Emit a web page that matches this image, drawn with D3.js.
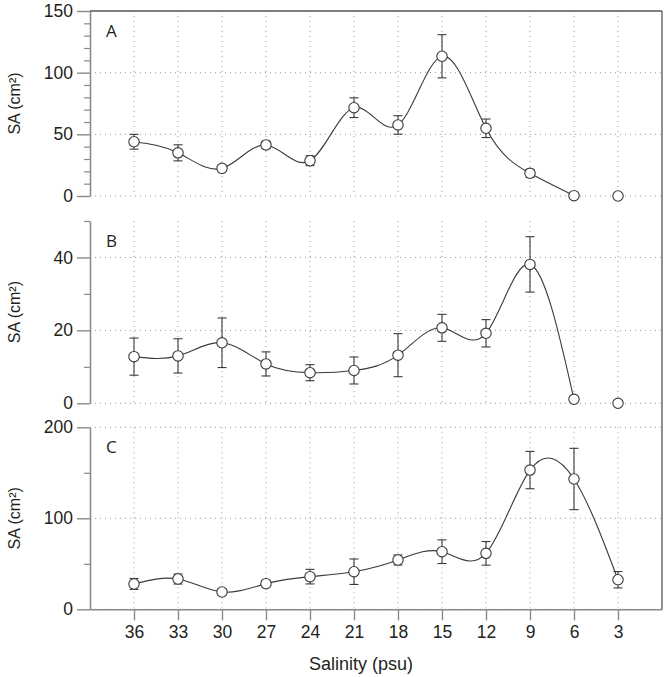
<!DOCTYPE html>
<html><head><meta charset="utf-8">
<script src="https://cdn.jsdelivr.net/npm/d3@7"></script>
<style>body{margin:0;background:#fff}svg{display:block}text{font-family:"Liberation Sans",Arial,sans-serif;fill:#231f20}</style>
</head><body><svg id="c" width="667" height="677"></svg>
<script>
const salinity = [36,33,30,27,24,21,18,15,12,9,6,3];
const saA  = [44,35,22.4,41.4,28.6,71.6,57.6,113.3,54.9,18.4,0.3,0];
const errA = [6,6.5,2,3,4,8,7.5,17.5,7.5,3.3,0,0];
const saB  = [12.8,13,16.6,10.8,8.4,9.0,13.2,20.7,19.2,38.1,1.1,0];
const errB = [5.1,4.7,6.8,3.3,2.2,3.7,5.9,3.7,3.75,7.6,0,0];
const saC  = [27.8,33.3,19,28.2,35.9,41.3,54.2,63.3,61.5,153,143.2,32.5];
const errC = [6,5.5,3,3,8,14,5.5,13,13,20.5,33.7,9];
const panelLabels = ["A","B","C"];
const yMax = [150,50,200];
const yMajor = [[0,50,100,150],[0,20,40],[0,100,200]];
const yMinor = [[10,20,30,40,60,70,80,90,110,120,130,140],[10,30,50],[50,150]];
const connectedCount = [11,11,12];
const yTitle = "SA (cm²)";
const xTitle = "Salinity (psu)";

const svg = d3.select("#c");
const X0 = 90, X1 = 662;
const x = d3.scaleLinear().domain([39,0]).range([X0,X1]);
const panels = [
  {vals:saA, err:errA, top:11, bot:196},
  {vals:saB, err:errB, top:221, bot:403.3},
  {vals:saC, err:errC, top:427.3, bot:609.3}
];
const grid = "#9a9a9a", axisC = "#8a8a8a", ink = "#3a3a3a";

panels.forEach((p,i)=>{
  const y = d3.scaleLinear().domain([0,yMax[i]]).range([p.bot,p.top]);
  const g = svg.append("g");
  g.selectAll(".vg").data(salinity).join("line")
    .attr("x1",d=>x(d)).attr("x2",d=>x(d)).attr("y1",p.top).attr("y2",p.bot)
    .attr("stroke",grid).attr("stroke-width",1).attr("stroke-dasharray","1,4");
  g.selectAll(".hg").data(yMajor[i].filter(v=>!(i===0&&v===yMax[i]))).join("line")
    .attr("x1",X0).attr("x2",X1).attr("y1",d=>y(d)).attr("y2",d=>y(d))
    .attr("stroke",grid).attr("stroke-width",1).attr("stroke-dasharray","1,4");
  const minor = g.append("g").attr("transform",`translate(${X0},0)`)
    .call(d3.axisLeft(y).tickValues(yMinor[i]).tickSize(6).tickFormat(""));
  minor.select(".domain").remove();
  minor.selectAll("line").attr("stroke",axisC).attr("stroke-width",1.2);
  const ax = g.append("g").attr("transform",`translate(${X0},0)`)
    .call(d3.axisLeft(y).tickValues(yMajor[i]).tickSize(13).tickSizeOuter(0).tickPadding(4));
  ax.select(".domain").attr("stroke",axisC).attr("stroke-width",1.6);
  ax.selectAll("line").attr("stroke",axisC).attr("stroke-width",1.4);
  ax.selectAll("text").attr("font-size",17.5).attr("fill","#231f20").attr("font-family","Liberation Sans, Arial, sans-serif");
  g.append("text").attr("x",106).attr("y",p.top+26).attr("font-size",17)
    .style("font-family","'Open Sans',sans-serif").text(panelLabels[i]);
  g.append("text").attr("transform",`translate(20,${(p.top+p.bot)/2}) rotate(-90)`)
    .attr("text-anchor","middle").attr("font-size",16).text(yTitle);
  const pts = salinity.map((s,k)=>[s,p.vals[k]]).slice(0,connectedCount[i]);
  g.append("path").datum(pts)
    .attr("d",d3.line().x(d=>x(d[0])).y(d=>y(d[1])).curve(d3.curveNatural))
    .attr("fill","none").attr("stroke",ink).attr("stroke-width",1.1);
  const eb = salinity.map((s,k)=>({s,v:p.vals[k],e:p.err[k]})).filter(d=>d.e>0);
  g.selectAll(".eb").data(eb).join("line")
    .attr("x1",d=>x(d.s)).attr("x2",d=>x(d.s)).attr("y1",d=>y(d.v+d.e)).attr("y2",d=>y(d.v-d.e))
    .attr("stroke",ink).attr("stroke-width",1.1);
  [1,-1].forEach(sg=>{
    g.selectAll(sg>0?".capT":".capB").data(eb).join("line")
      .attr("x1",d=>x(d.s)-4.5).attr("x2",d=>x(d.s)+4.5)
      .attr("y1",d=>y(d.v+sg*d.e)).attr("y2",d=>y(d.v+sg*d.e))
      .attr("stroke",ink).attr("stroke-width",1.1);
  });
  g.selectAll(".pt").data(salinity.map((s,k)=>[s,p.vals[k]])).join("circle")
    .attr("cx",d=>x(d[0])).attr("cy",d=>y(d[1])).attr("r",5.2)
    .attr("fill","#fff").attr("stroke",ink).attr("stroke-width",1.1);
});

svg.append("line").attr("x1",X0).attr("x2",X1).attr("y1",11).attr("y2",11).attr("stroke","#555").attr("stroke-width",1.3);
svg.append("line").attr("x1",X1).attr("x2",X1).attr("y1",11).attr("y2",609.3).attr("stroke","#555").attr("stroke-width",1.3);

const xa = svg.append("g").attr("transform","translate(0,609.3)")
  .call(d3.axisBottom(x).tickValues(salinity).tickSize(11).tickSizeOuter(0).tickPadding(5));
xa.select(".domain").attr("stroke",axisC).attr("stroke-width",1.6);
xa.selectAll("line").attr("stroke",axisC).attr("stroke-width",1.4);
xa.selectAll("text").attr("font-size",17.5).attr("fill","#231f20").attr("font-family","Liberation Sans, Arial, sans-serif");

svg.append("text").attr("x",361).attr("y",670).attr("text-anchor","middle").attr("font-size",18).text(xTitle);
</script></body></html>
